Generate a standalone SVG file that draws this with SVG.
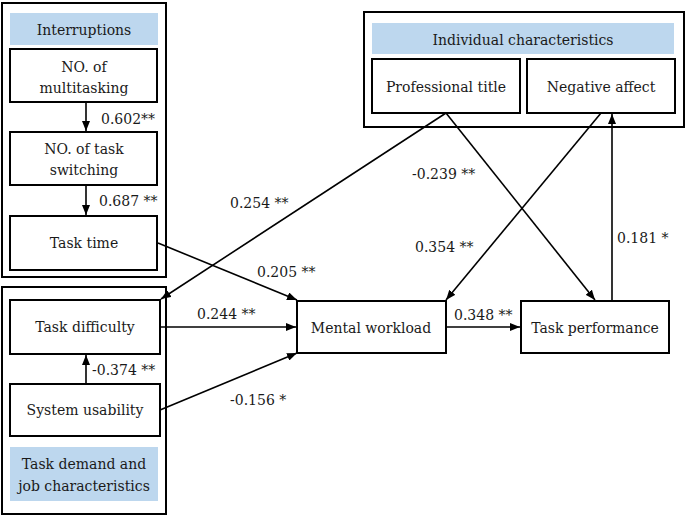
<svg xmlns="http://www.w3.org/2000/svg" width="685" height="517" viewBox="0 0 685 517">
<style>
text{font-family:"DejaVu Serif",serif;font-size:14px;fill:#1a1a1a}
.c{text-anchor:middle}
.box{fill:#fff;stroke:#000;stroke-width:2}
.outer{fill:none;stroke:#000;stroke-width:2}
.hdr{fill:#bdd7ee;stroke:none}
.ln{fill:none;stroke:#000;stroke-width:1.6}
</style>
<defs>
<marker id="ah" markerUnits="userSpaceOnUse" markerWidth="10" markerHeight="8" refX="10" refY="4" orient="auto">
<path d="M0,0 L10,4 L0,8 z" fill="#000"/>
</marker>
</defs>
<rect x="0" y="0" width="685" height="517" fill="#fff"/>
<g id="group-interruptions">
<rect class="outer" x="2" y="3" width="164" height="274"/>
<rect class="hdr" x="10" y="13" width="148" height="32"/>
<text class="c" x="84" y="35">Interruptions</text>
</g>
<g id="node-multitasking">
<rect class="box" x="10" y="49" width="147" height="53"/>
<text class="c" x="84" y="72">NO. of</text>
<text class="c" x="84" y="93">multitasking</text>
</g>
<g id="node-switching">
<rect class="box" x="10" y="132" width="147" height="53"/>
<text class="c" x="84" y="154">NO. of task</text>
<text class="c" x="84" y="175">switching</text>
</g>
<g id="node-tasktime">
<rect class="box" x="10" y="216" width="147" height="54"/>
<text class="c" x="84" y="248">Task time</text>
</g>
<g id="group-taskdemand">
<rect class="outer" x="2" y="287" width="164" height="227"/>
<rect class="hdr" x="10" y="447" width="148" height="54"/>
<text class="c" x="84" y="469">Task demand and</text>
<text class="c" x="84" y="491">job characteristics</text>
</g>
<g id="node-difficulty">
<rect class="box" x="10" y="300" width="150" height="54"/>
<text class="c" x="85" y="332">Task difficulty</text>
</g>
<g id="node-usability">
<rect class="box" x="10" y="384" width="150" height="52"/>
<text class="c" x="85" y="415">System usability</text>
</g>
<g id="group-individual">
<rect class="outer" x="364" y="12" width="320" height="115"/>
<rect class="hdr" x="372" y="23" width="302" height="31"/>
<text class="c" x="523" y="45">Individual characteristics</text>
</g>
<g id="node-title">
<rect class="box" x="372" y="59" width="148" height="54"/>
<text class="c" x="446" y="92">Professional title</text>
</g>
<g id="node-negaffect">
<rect class="box" x="527" y="59" width="148" height="54"/>
<text class="c" x="601" y="92">Negative affect</text>
</g>
<g id="node-workload">
<rect class="box" x="297" y="301" width="149" height="52"/>
<text class="c" x="371" y="333">Mental workload</text>
</g>
<g id="node-performance">
<rect class="box" x="521" y="301" width="148" height="52"/>
<text class="c" x="595" y="333">Task performance</text>
</g>
<g id="connectors">
<line class="ln" x1="86" y1="102" x2="86" y2="131" marker-end="url(#ah)"/>
<line class="ln" x1="86" y1="185" x2="86" y2="215" marker-end="url(#ah)"/>
<line class="ln" x1="86" y1="384" x2="86" y2="355" marker-end="url(#ah)"/>
<line class="ln" x1="446" y1="113" x2="161" y2="299" marker-end="url(#ah)"/>
<line class="ln" x1="446" y1="113" x2="595" y2="300" marker-end="url(#ah)"/>
<line class="ln" x1="601" y1="113" x2="446" y2="300" marker-end="url(#ah)"/>
<line class="ln" x1="612" y1="301" x2="612" y2="114" marker-end="url(#ah)"/>
<line class="ln" x1="158" y1="243" x2="297" y2="300" marker-end="url(#ah)"/>
<line class="ln" x1="160" y1="327" x2="296" y2="327" marker-end="url(#ah)"/>
<line class="ln" x1="160" y1="410" x2="297" y2="353" marker-end="url(#ah)"/>
<line class="ln" x1="446" y1="327" x2="520" y2="327" marker-end="url(#ah)"/>
</g>
<g id="labels">
<text x="101" y="124">0.602**</text>
<text x="99" y="206">0.687 **</text>
<text x="92" y="375">-0.374 **</text>
<text x="230" y="208">0.254 **</text>
<text x="257" y="277">0.205 **</text>
<text x="197" y="319">0.244 **</text>
<text x="230" y="405">-0.156 *</text>
<text x="412" y="179">-0.239 **</text>
<text x="415" y="252">0.354 **</text>
<text x="454" y="320">0.348 **</text>
<text x="617" y="243">0.181 *</text>
</g>
</svg>
